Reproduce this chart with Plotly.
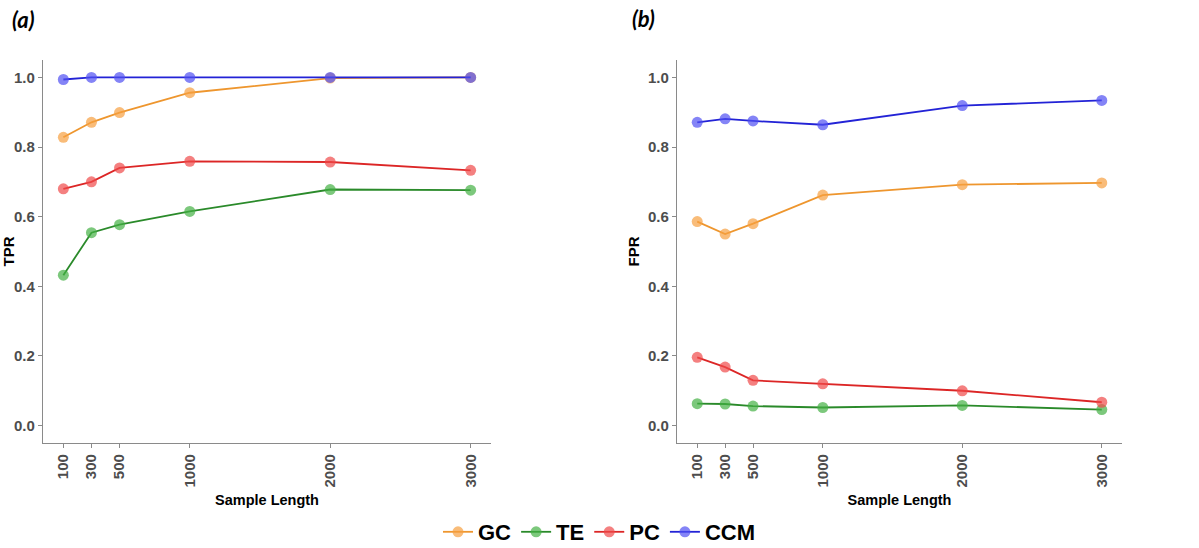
import plotly.graph_objects as go

# Sample lengths evaluated
sample_length = [100, 300, 500, 1000, 2000, 3000]
x_ticks = [100, 300, 500, 1000, 2000, 3000]

# True positive rate per method
tpr_gc = [0.828, 0.871, 0.899, 0.956, 0.998, 1.000]
tpr_te = [0.432, 0.554, 0.577, 0.615, 0.678, 0.676]
tpr_pc = [0.680, 0.700, 0.740, 0.759, 0.757, 0.733]
tpr_ccm = [0.994, 1.000, 1.000, 1.000, 1.000, 1.000]

# False positive rate per method
fpr_gc = [0.586, 0.550, 0.580, 0.662, 0.692, 0.697]
fpr_te = [0.063, 0.062, 0.056, 0.052, 0.058, 0.046]
fpr_pc = [0.196, 0.168, 0.130, 0.120, 0.100, 0.067]
fpr_ccm = [0.871, 0.881, 0.875, 0.864, 0.919, 0.934]

methods = ["GC", "TE", "PC", "CCM"]
line_colors = {"GC": "#EE962E", "TE": "#2A8A2A", "PC": "#DC2626", "CCM": "#2323D6"}
marker_colors = {"GC": "#F6A040", "TE": "#45B045", "PC": "#F04A4A", "CCM": "#5050F2"}

tpr = {"GC": tpr_gc, "TE": tpr_te, "PC": tpr_pc, "CCM": tpr_ccm}
fpr = {"GC": fpr_gc, "TE": fpr_te, "PC": fpr_pc, "CCM": fpr_ccm}

FONT = "Liberation Sans"
W, H = 1199, 548

fig = go.Figure()

for panel, data in ((1, tpr), (2, fpr)):
    for m in methods:
        fig.add_trace(go.Scatter(
            x=sample_length, y=data[m], name=m,
            mode="lines+markers",
            line=dict(color=line_colors[m], width=1.8),
            marker=dict(color=marker_colors[m], size=11, opacity=0.7),
            xaxis="x" if panel == 1 else "x2",
            yaxis="y" if panel == 1 else "y2",
            showlegend=(panel == 1),
            legendgroup=m,
        ))

axis_common = dict(
    showgrid=False, zeroline=False, showline=True, automargin=False,
    linecolor="#8A8A8A", linewidth=1.3,
    ticks="outside", ticklen=4, tickcolor="#8A8A8A", tickwidth=1,
    tickfont=dict(family=FONT, size=15, color="#4D4D4D", weight="bold"),
)

xaxis_common = dict(
    axis_common, range=[-45, 3145], tickmode="array",
    tickvals=x_ticks, ticktext=[str(v) for v in x_ticks], tickangle=-90,
    title=dict(text="Sample Length", standoff=8,
               font=dict(family=FONT, size=14.5, color="#000000", weight="bold")),
)
yaxis_common = dict(
    axis_common, range=[-0.05, 1.05], tickmode="array",
    tickvals=[0, 0.2, 0.4, 0.6, 0.8, 1.0],
    ticktext=["0.0", "0.2", "0.4", "0.6", "0.8", "1.0"],
)

y_dom = [1 - 443 / H, 1 - 60 / H]
ytitle_font = dict(family=FONT, size=15, color="#000000", weight="bold")

fig.update_layout(
    width=W, height=H,
    margin=dict(l=0, r=0, t=0, b=0, autoexpand=False),
    paper_bgcolor="white", plot_bgcolor="white",
    xaxis=dict(xaxis_common, domain=[43 / W, 491 / W], anchor="y"),
    yaxis=dict(yaxis_common, domain=y_dom, anchor="x",
               title=dict(text="TPR", standoff=4, font=ytitle_font)),
    xaxis2=dict(xaxis_common, domain=[677 / W, 1122 / W], anchor="y2"),
    yaxis2=dict(yaxis_common, domain=y_dom, anchor="x2",
                title=dict(text="FPR", standoff=4, font=ytitle_font)),
    legend=dict(
        orientation="h", x=0.5, xanchor="center", y=1 - 532 / H, yanchor="middle",
        font=dict(family=FONT, size=22, color="#000000", weight="bold"),
        itemwidth=30, tracegroupgap=0, bgcolor="rgba(0,0,0,0)",
    ),
    annotations=[
        dict(text="(a)", x=10 / W, y=1 - 20 / H, xref="paper", yref="paper",
             xanchor="left", yanchor="middle", showarrow=False,
             font=dict(family="Lato", size=22, color="#000000", weight="bold", style="italic")),
        dict(text="(b)", x=630 / W, y=1 - 18 / H, xref="paper", yref="paper",
             xanchor="left", yanchor="middle", showarrow=False,
             font=dict(family="Lato", size=22, color="#000000", weight="bold", style="italic")),
    ],
)

fig.write_html("out.html")
